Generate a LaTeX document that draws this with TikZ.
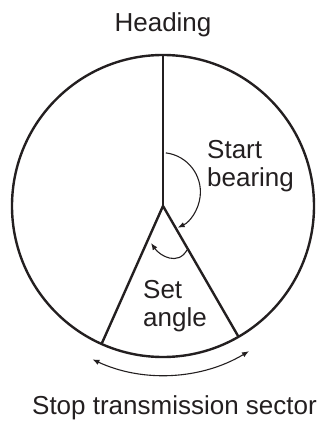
\documentclass[tikz,border=0pt]{standalone}
\usepackage{fontspec}
\setmainfont{Liberation Sans}
\usetikzlibrary{arrows.meta,calc}
\definecolor{ink}{HTML}{231F20}
\begin{document}
\begin{tikzpicture}[x=1pt,y=1pt,
  heavy/.style={draw=ink,line width=2.4pt},
  thin/.style={draw=ink,line width=1.1pt},
  tip/.style={-{Latex[length=7pt,width=5.5pt]}},
  lbl/.style={inner sep=0pt,text=ink,font=\fontsize{26}{28}\selectfont}]
\useasboundingbox (0,0) rectangle (321,421);
\coordinate (c) at (163,215);
\coordinate (top) at ($(c)+(90:151)$);
\path (c) ++(246:151) coordinate (l);
\path (c) ++(300:151) coordinate (r);
\draw[heavy] (c) circle (151);
\draw[heavy,line join=miter] (top) -- (c);
\draw[heavy,line join=miter] (l) -- (c) -- (r);
% start bearing arc
\coordinate (sbc) at (161,229);
\draw[thin,tip] ($(sbc)+(83:39.4)$) arc[start angle=83,end angle=-65,radius=39.4];
% set angle arc
\coordinate (sa1) at (187,171);
\coordinate (sa2) at (151,178);
\draw[thin,tip] (sa1) .. controls (178,155) and (160,165) .. (sa2);
% bottom double arrow
\coordinate (bc) at (163,213);
\draw[thin,{Latex[length=7pt,width=5.5pt]}-{Latex[length=7pt,width=5.5pt]}] ($(bc)+(-115:167)$) arc[start angle=-115,end angle=-59,radius=167];
\node[lbl,anchor=base] (heading) at (163,389) {Heading};
\node[lbl,anchor=north west,align=left] (start) at (207,281) {Start\\bearing};
\node[lbl,anchor=north west,align=left] (set) at (143,141) {Set\\angle};
\node[lbl,anchor=base] (stop) at (174.5,6) {Stop transmission sector};
\end{tikzpicture}
\end{document}
